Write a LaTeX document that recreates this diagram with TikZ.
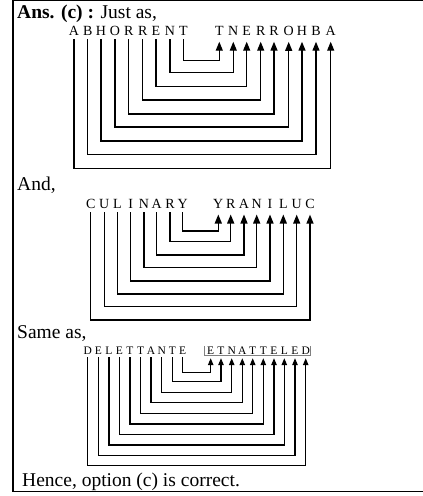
\documentclass[tikz,border=0pt]{standalone}
\usepackage{fontspec}
\setmainfont{Liberation Serif}
\usetikzlibrary{arrows.meta}
\begin{document}
\begin{tikzpicture}[x=1pt, y=-1pt,
        heading/.style={anchor=base west, inner sep=0pt, font=\fontsize{19.5}{22}\selectfont},
        bigletter/.style={anchor=base, inner sep=0pt, font=\fontsize{14}{16}\selectfont},
        smallletter/.style={anchor=base, inner sep=0pt, font=\fontsize{11.5}{13}\selectfont},
        biglink/.style={line width=1.3pt, -{Triangle[length=9pt, width=7pt]}, shorten <=3.5pt, shorten >=6pt},
        smalllink/.style={line width=1.1pt, -{Triangle[length=7pt, width=5.5pt]}, shorten <=3pt, shorten >=4pt}
    ]
        \useasboundingbox (0,0) rectangle (423,496);
        % Frame
        \draw[line width=1.2pt] (13,0.8) rectangle (424,491.5);

        % Just as, ABHORRENT
        \node[heading] (ans) at (17,18) {\textbf{Ans. (c) :} Just as,};
        \node[bigletter] (ab1) at (74,35.5) {A};
        \node[bigletter] (ab2) at (87.7,35.5) {B};
        \node[bigletter] (ab3) at (101,35.5) {H};
        \node[bigletter] (ab4) at (115,35.5) {O};
        \node[bigletter] (ab5) at (128.7,35.5) {R};
        \node[bigletter] (ab6) at (142.7,35.5) {R};
        \node[bigletter] (ab7) at (156,35.5) {E};
        \node[bigletter] (ab8) at (170,35.5) {N};
        \node[bigletter] (ab9) at (183.3,35.5) {T};
        \node[bigletter] (tn1) at (219.3,35.5) {T};
        \node[bigletter] (tn2) at (233.3,35.5) {N};
        \node[bigletter] (tn3) at (246.7,35.5) {E};
        \node[bigletter] (tn4) at (260.7,35.5) {R};
        \node[bigletter] (tn5) at (274,35.5) {R};
        \node[bigletter] (tn6) at (288.7,35.5) {O};
        \node[bigletter] (tn7) at (302,35.5) {H};
        \node[bigletter] (tn8) at (316,35.5) {B};
        \node[bigletter] (tn9) at (330.7,35.5) {A};
        \draw[biglink] (ab9.south) -- (ab9.south |- 0,60.7) -| (tn1.south);
        \draw[biglink] (ab8.south) -- (ab8.south |- 0,72.7) -| (tn2.south);
        \draw[biglink] (ab7.south) -- (ab7.south |- 0,86.7) -| (tn3.south);
        \draw[biglink] (ab6.south) -- (ab6.south |- 0,100) -| (tn4.south);
        \draw[biglink] (ab5.south) -- (ab5.south |- 0,114) -| (tn5.south);
        \draw[biglink] (ab4.south) -- (ab4.south |- 0,127) -| (tn6.south);
        \draw[biglink] (ab3.south) -- (ab3.south |- 0,141) -| (tn7.south);
        \draw[biglink] (ab2.south) -- (ab2.south |- 0,154.7) -| (tn8.south);
        \draw[biglink] (ab1.south) -- (ab1.south |- 0,168.3) -| (tn9.south);

        % And, CULINARY
        \node[heading] (and) at (17,190) {And,};
        \node[bigletter] (cu1) at (90.7,208.3) {C};
        \node[bigletter] (cu2) at (104.3,208.3) {U};
        \node[bigletter] (cu3) at (117.3,208.3) {L};
        \node[bigletter] (cu4) at (130.7,208.3) {I};
        \node[bigletter] (cu5) at (144,208.3) {N};
        \node[bigletter] (cu6) at (156.7,208.3) {A};
        \node[bigletter] (cu7) at (170,208.3) {R};
        \node[bigletter] (cu8) at (182.7,208.3) {Y};
        \node[bigletter] (yr1) at (218.3,208.3) {Y};
        \node[bigletter] (yr2) at (230.7,208.3) {R};
        \node[bigletter] (yr3) at (244,208.3) {A};
        \node[bigletter] (yr4) at (256.7,208.3) {N};
        \node[bigletter] (yr5) at (270,208.3) {I};
        \node[bigletter] (yr6) at (283.3,208.3) {L};
        \node[bigletter] (yr7) at (296.7,208.3) {U};
        \node[bigletter] (yr8) at (310,208.3) {C};
        \draw[biglink] (cu8.south) -- (cu8.south |- 0,231) -| (yr1.south);
        \draw[biglink] (cu7.south) -- (cu7.south |- 0,241.7) -| (yr2.south);
        \draw[biglink] (cu6.south) -- (cu6.south |- 0,255) -| (yr3.south);
        \draw[biglink] (cu5.south) -- (cu5.south |- 0,267.7) -| (yr4.south);
        \draw[biglink] (cu4.south) -- (cu4.south |- 0,281) -| (yr5.south);
        \draw[biglink] (cu3.south) -- (cu3.south |- 0,294) -| (yr6.south);
        \draw[biglink] (cu2.south) -- (cu2.south |- 0,306.7) -| (yr7.south);
        \draw[biglink] (cu1.south) -- (cu1.south |- 0,320) -| (yr8.south);

        % Same as, DELETTANTE
        \node[heading] (same) at (17,338) {Same as,};
        \node[smallletter] (de1) at (87.7,354) {D};
        \node[smallletter] (de2) at (98.3,354) {E};
        \node[smallletter] (de3) at (109,354) {L};
        \node[smallletter] (de4) at (119.3,354) {E};
        \node[smallletter] (de5) at (130,354) {T};
        \node[smallletter] (de6) at (140.7,354) {T};
        \node[smallletter] (de7) at (151,354) {A};
        \node[smallletter] (de8) at (161.7,354) {N};
        \node[smallletter] (de9) at (172.3,354) {T};
        \node[smallletter] (de10) at (182.7,354) {E};
        \node[smallletter] (et1) at (210.7,354) {E};
        \node[smallletter] (et2) at (221,354) {T};
        \node[smallletter] (et3) at (231.7,354) {N};
        \node[smallletter] (et4) at (242.3,354) {A};
        \node[smallletter] (et5) at (252.7,354) {T};
        \node[smallletter] (et6) at (263.3,354) {T};
        \node[smallletter] (et7) at (274,354) {E};
        \node[smallletter] (et8) at (284.3,354) {L};
        \node[smallletter] (et9) at (295,354) {E};
        \node[smallletter] (et10) at (305.7,354) {D};
        \draw[gray, line width=0.8pt] (204,346) |- (310.7,355.3) -- (310.7,346);
        \draw[smalllink] (de10.south) -- (de10.south |- 0,372.7) -| (et1.south);
        \draw[smalllink] (de9.south) -- (de9.south |- 0,381.7) -| (et2.south);
        \draw[smalllink] (de8.south) -- (de8.south |- 0,392.3) -| (et3.south);
        \draw[smalllink] (de7.south) -- (de7.south |- 0,402.7) -| (et4.south);
        \draw[smalllink] (de6.south) -- (de6.south |- 0,413.3) -| (et5.south);
        \draw[smalllink] (de5.south) -- (de5.south |- 0,424) -| (et6.south);
        \draw[smalllink] (de4.south) -- (de4.south |- 0,434.3) -| (et7.south);
        \draw[smalllink] (de3.south) -- (de3.south |- 0,445) -| (et8.south);
        \draw[smalllink] (de2.south) -- (de2.south |- 0,455.7) -| (et9.south);
        \draw[smalllink] (de1.south) -- (de1.south |- 0,465.7) -| (et10.south);

        % Conclusion
        \node[heading] (hence) at (22,486) {Hence, option (c) is correct.};
    \end{tikzpicture}
\end{document}
